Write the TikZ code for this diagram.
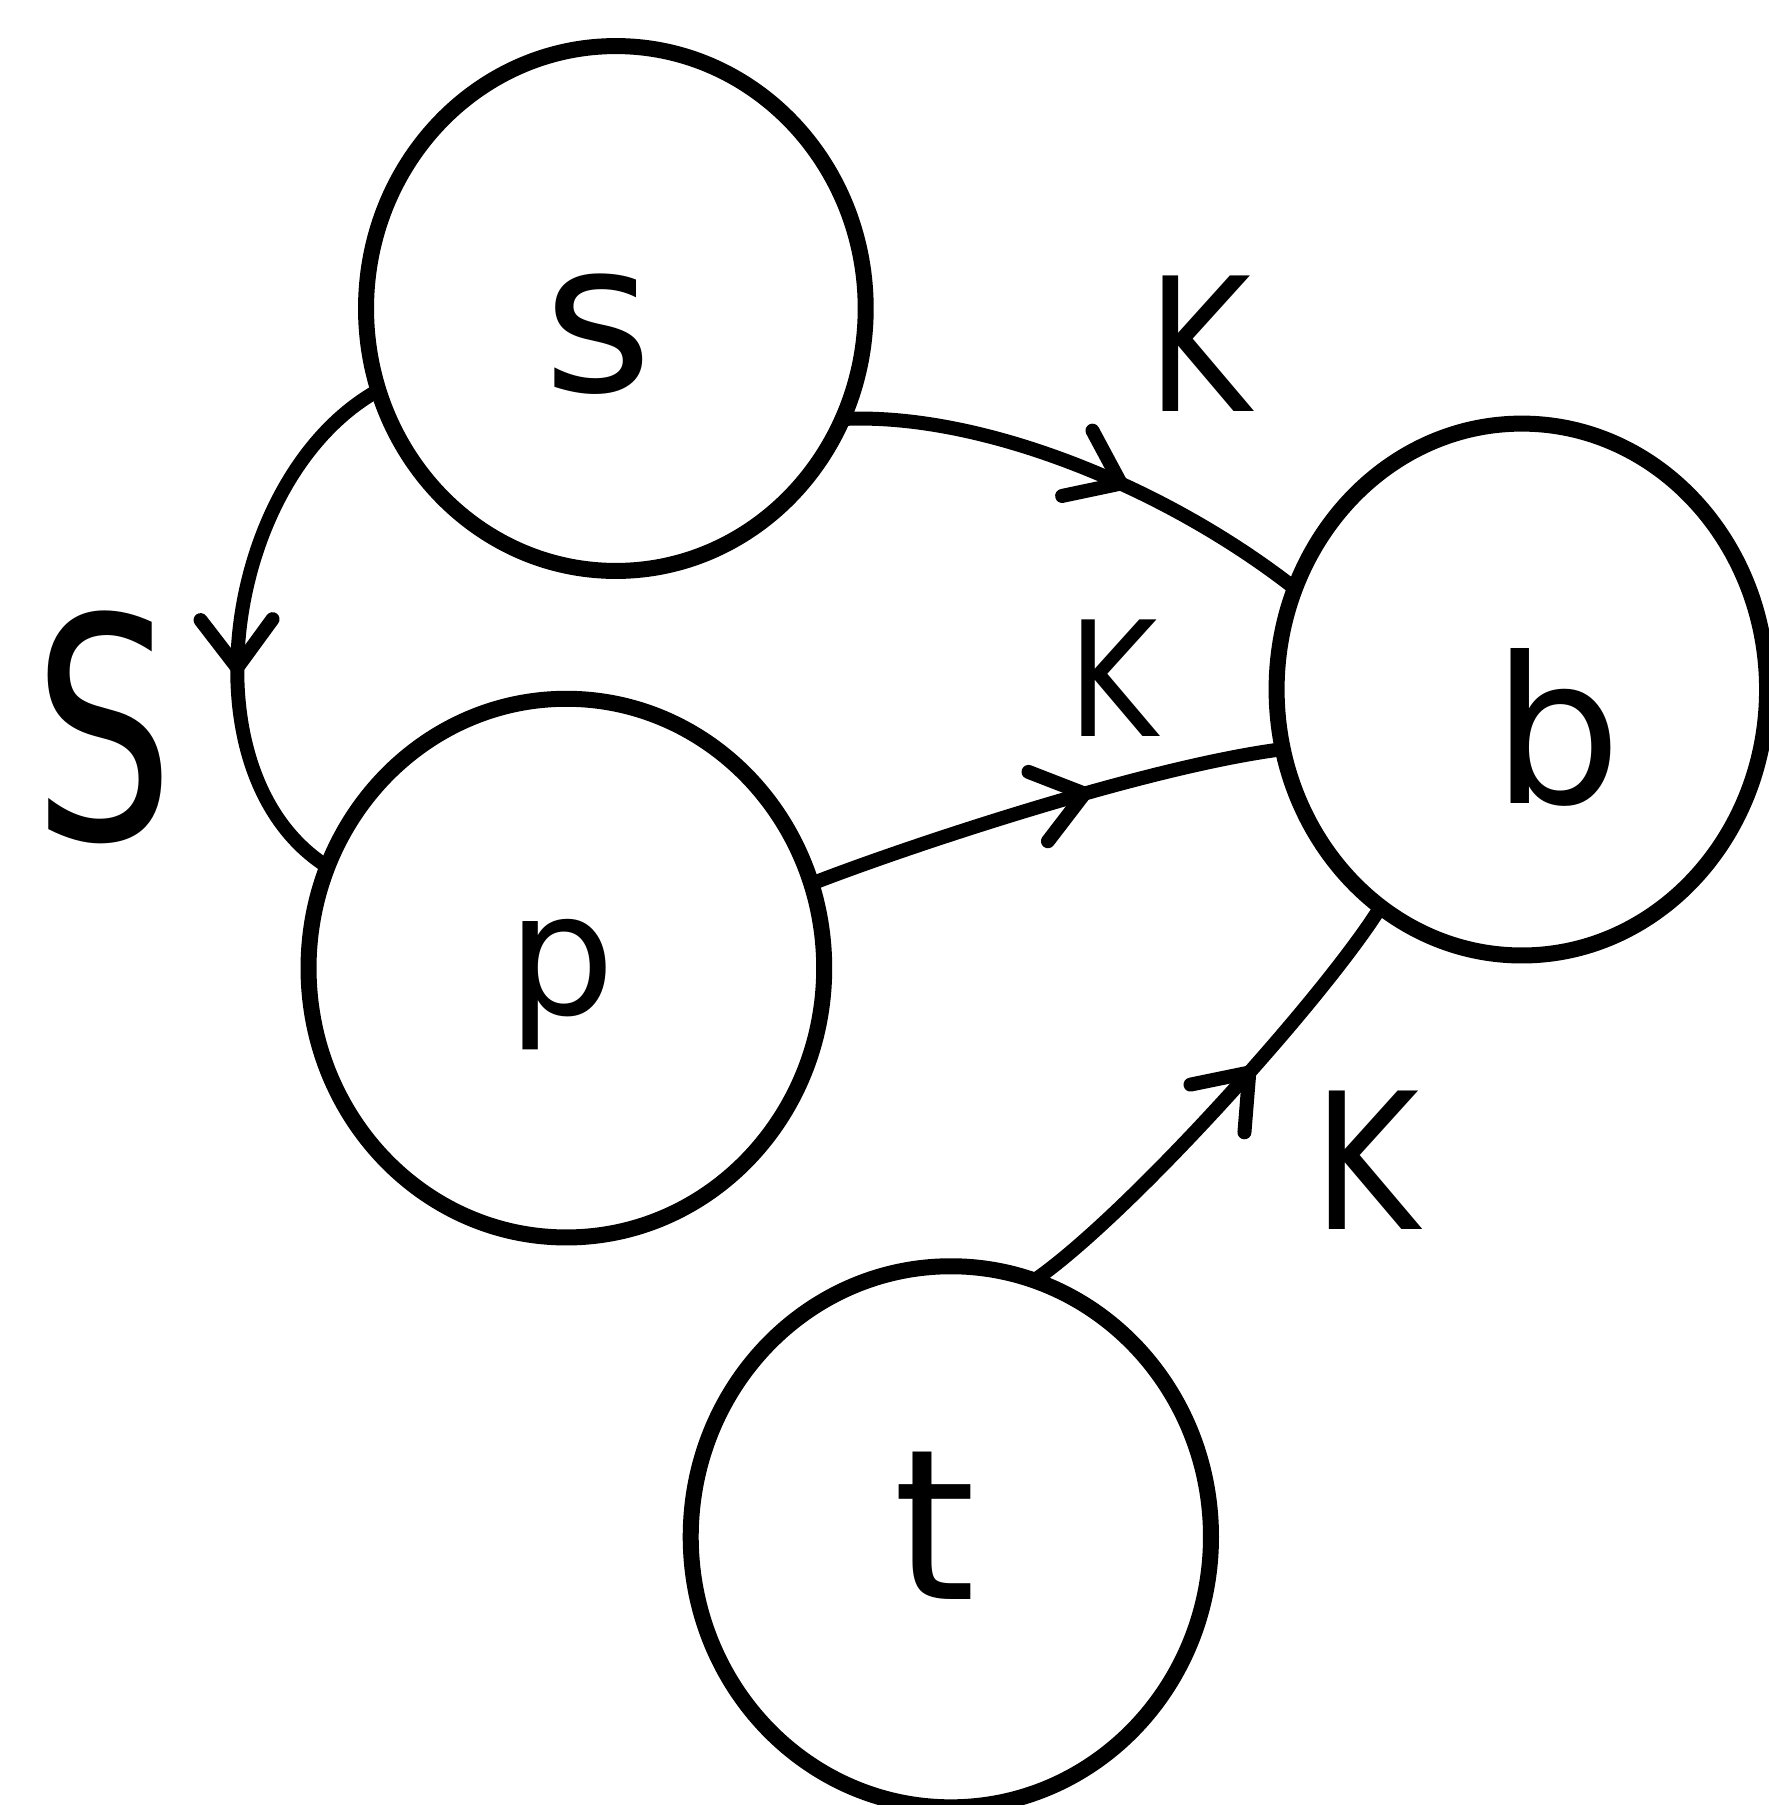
\documentclass[tikz,border=0pt]{standalone}
\usepackage{fontspec}
\usepackage{graphicx}
\setmainfont{DejaVu Sans}
\usetikzlibrary{shapes.geometric,arrows.meta,decorations.markings}
\begin{document}
\begin{tikzpicture}[x=0.5755pt,y=-0.5755pt,
  state/.style={ellipse,draw,line width=8pt,inner sep=0pt,outer sep=0pt},
  edge/.style={line width=7pt,line cap=round},
  midarrow/.style={postaction={decorate},decoration={markings,mark=at position #1 with {\arrow{Straight Barb[length=24pt,width=36pt,line width=7pt,round]}}}},
  lett/.style={inner sep=0pt},
]
\useasboundingbox (0,0) rectangle (1536,1568);
% states
\node[state,minimum width=249.8pt,minimum height=262.4pt] (s) at (535,268) {};
\node[state,minimum width=257.8pt,minimum height=269.3pt] (p) at (492,841) {};
\node[state,minimum width=245.2pt,minimum height=265.9pt] (b) at (1322,599) {};
\node[state,minimum width=260.1pt,minimum height=270.5pt] (t) at (826,1335) {};
% state letters
\node[lett,font=\fontsize{105}{110}\selectfont] (sl) at (520,290) {s};
\node[lett,font=\fontsize{85}{90}\selectfont] (pl) at (488,855) {p};
\node[lett,font=\fontsize{102}{110}\selectfont] (bl) at (1353,632) {b};
\node[lett,font=\fontsize{105}{110}\selectfont] (tl) at (812,1325) {t};
% connectors
\draw[edge,midarrow=0.6] (s.199) .. controls +(-135,75) and +(-127,-80) .. (p.157);
\draw[edge,midarrow=0.6] (s.334) .. controls +(118,-6) and +(-115,-90) .. (b.156);
\draw[edge,midarrow=0.6] (p.19) .. controls +(82,-32) and +(-118,15) .. (b.194);
\draw[edge,midarrow=0.6] (t.72) .. controls +(80,-55) and +(-50,80) .. (b.237);
% labels
\node[lett,font=\fontsize{154}{160}\selectfont] (lS) at (90,632) {\scalebox{0.72}[1]{S}};
\node[lett,font=\fontsize{93}{100}\selectfont] (lK1) at (1042,299) {\scalebox{0.85}[1]{K}};
\node[lett,font=\fontsize{80}{86}\selectfont] (lK2) at (967,589) {\scalebox{0.85}[1]{K}};
\node[lett,font=\fontsize{95}{100}\selectfont] (lK3) at (1187,1008) {\scalebox{0.85}[1]{K}};
\end{tikzpicture}
\end{document}
